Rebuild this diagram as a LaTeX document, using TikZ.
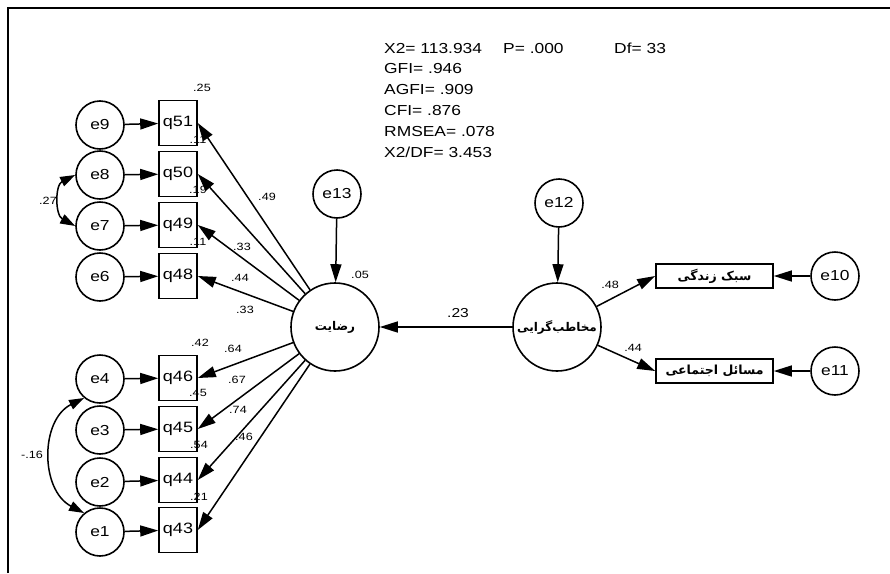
\documentclass[tikz,border=0pt]{standalone}
\usepackage{fontspec}
\setmainfont{Liberation Sans}[FakeStretch=1.2]
\newfontfamily\fa[Script=Arabic]{DejaVu Sans}
\TeXXeTstate=1
\usetikzlibrary{arrows.meta}
\begin{document}
\begin{tikzpicture}[x=1pt,y=-1pt,
  obs/.style={draw,line width=1.6pt,minimum width=38pt,minimum height=45pt,inner sep=0pt,font=\fontsize{15}{16}\selectfont},
  err/.style={draw,circle,line width=1.6pt,minimum size=48pt,inner sep=0pt,font=\fontsize{14.5}{16}\selectfont},
  lat/.style={draw,circle,line width=1.6pt,minimum size=88pt,inner sep=0pt,font=\fontsize{12}{13}\selectfont\fa\bfseries},
  rbox/.style={draw,line width=1.6pt,minimum width=117pt,minimum height=24pt,inner sep=0pt,font=\fontsize{12.5}{13}\selectfont\fa\bfseries},
  arr/.style={line width=1.5pt,-{Triangle[length=18pt,width=11pt]}},
  cov/.style={line width=1.5pt,{Triangle[length=15pt,width=10pt]}-{Triangle[length=15pt,width=10pt]}},
  lab/.style={font=\fontsize{10.5}{12}\selectfont,inner sep=0pt},
  stat/.style={font=\fontsize{14.5}{16}\selectfont,inner sep=0pt,anchor=base west}]
\useasboundingbox (0,0) rectangle (890,573);
\fill[white] (0,0) rectangle (890,573);
\draw[line width=1.8pt] (8,573) -- (8,8) -- (890,8);

% fit statistics
\node[stat] (x2) at (384,53) {X2= 113.934};
\node[stat] (p) at (503,53) {P= .000};
\node[stat] (df) at (614,53) {Df= 33};
\node[stat] (gfi) at (384,73) {GFI= .946};
\node[stat] (agfi) at (384,94) {AGFI= .909};
\node[stat] (cfi) at (384,115) {CFI= .876};
\node[stat] (rmsea) at (384,136) {RMSEA= .078};
\node[stat] (x2df) at (384,157) {X2/DF= 3.453};

% observed indicators
\node[obs] (q51) at (178,123) {q51};
\node[obs] (q50) at (178,174) {q50};
\node[obs] (q49) at (178,225) {q49};
\node[obs] (q48) at (178,276) {q48};
\node[obs] (q46) at (178,378) {q46};
\node[obs] (q45) at (178,429) {q45};
\node[obs] (q44) at (178,480) {q44};
\node[obs] (q43) at (178,530) {q43};

% errors
\node[err] (e9) at (100,125) {e9};
\node[err] (e8) at (100,175) {e8};
\node[err] (e7) at (100,226) {e7};
\node[err] (e6) at (100,277) {e6};
\node[err] (e4) at (100,379) {e4};
\node[err] (e3) at (100,430) {e3};
\node[err] (e2) at (100,482) {e2};
\node[err] (e1) at (100,532) {e1};

% latent
\node[lat] (sat) at (335,327) {\beginR رضایت\endR};
\node[lat] (aud) at (557,327) {\beginR مخاطب‌گرایی\endR};
\node[err] (e13) at (337,194) {e13};
\node[err] (e12) at (559,203) {e12};

% right indicators
\node[rbox] (life) at (714.5,276) {\beginR سبک زندگی\endR};
\node[rbox] (soc) at (714.5,371) {\beginR مسائل اجتماعی\endR};
\node[err] (e10) at (835,276) {e10};
\node[err] (e11) at (835,371) {e11};

% R-squared labels
\node[lab] (r51) at (202,88) {.25};
\node[lab] (r50) at (198,140) {.11};
\node[lab] (r49) at (198,190) {.19};
\node[lab] (r48) at (198,242) {.11};
\node[lab] (r46) at (200,343) {.42};
\node[lab] (r45) at (198,393) {.45};
\node[lab] (r44) at (199,445) {.54};
\node[lab] (r43) at (199,497) {.21};

% arrows
\foreach \e/\q in {e9/q51,e8/q50,e7/q49,e6/q48,e4/q46,e3/q45,e2/q44,e1/q43}
  \draw[arr] (\e) -- (\q);
\foreach \q in {q51,q50,q49,q48,q46,q45,q44,q43}
  \draw[arr] (sat) -- (\q.east);
\draw[arr] (e13) -- (sat);
\draw[arr] (e12) -- (aud);
\draw[arr] (aud) -- (sat);
\draw[arr] (aud) -- (life.west);
\draw[arr] (aud) -- (soc.west);
\draw[arr] (e10) -- (life);
\draw[arr] (e11) -- (soc);
\draw[cov] (e8.west) .. controls (55,185) and (55,215) .. (e7.west);
\draw[cov] (e4.230) .. controls (40,420) and (40,490) .. (e1.130);

% loading labels
\node[lab] (l51) at (267,197) {.49};
\node[lab] (l50) at (242,247) {.33};
\node[lab] (l49) at (240,278) {.44};
\node[lab] (l48) at (245,310) {.33};
\node[lab] (l46) at (233,349) {.64};
\node[lab] (l45) at (237,380) {.67};
\node[lab] (l44) at (238,410) {.74};
\node[lab] (l43) at (244,437) {.46};
\node[lab] (r13) at (360,275) {.05};
\node[lab,font=\fontsize{13}{14}\selectfont] (b23) at (458,313) {.23};
\node[lab] (b48) at (610,285) {.48};
\node[lab] (b44) at (633,348) {.44};
\node[lab] (c27) at (48,201) {.27};
\node[lab] (c16) at (32,455) {-.16};
\end{tikzpicture}
\end{document}
